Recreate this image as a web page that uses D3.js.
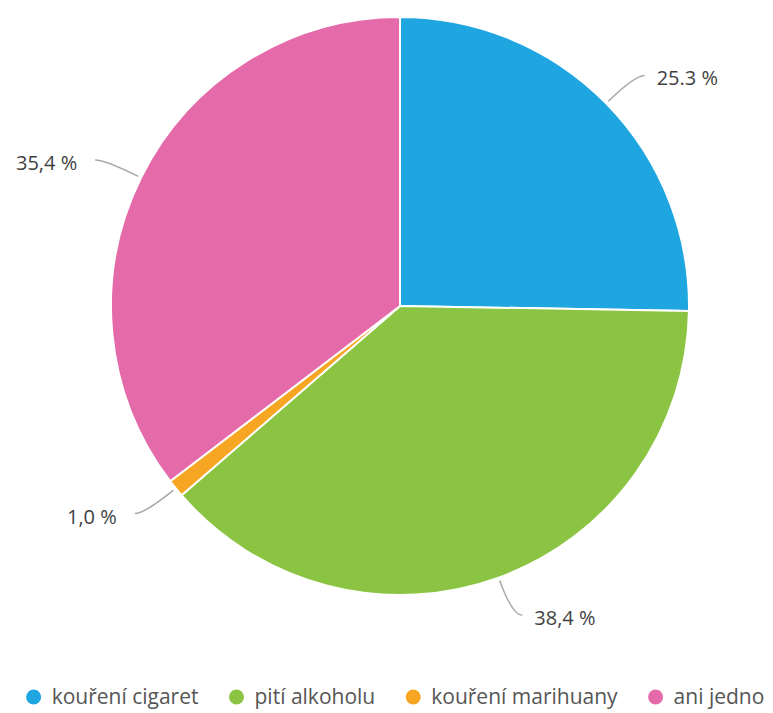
<!DOCTYPE html>
<html>
<head>
<meta charset="utf-8">
<script src="https://cdn.jsdelivr.net/npm/d3@7"></script>
<style>
  html, body { margin: 0; padding: 0; background: #fff; }
  svg { display: block; }
</style>
</head>
<body>
<svg id="chart" width="773" height="713"></svg>
<script>
// Categories, values (%) and their printed labels
const categories = ["kouření cigaret", "pití alkoholu", "kouření marihuany", "ani jedno"];
const values = [25.3, 38.4, 1.0, 35.4];
const valueLabels = ["25.3 %", "38,4 %", "1,0 %", "35,4 %"];
const colors = ["#1FA6E0", "#8BC443", "#F6A623", "#E46AA9"];

const svg = d3.select("#chart");
const cx = 400, cy = 306, R = 289;
const font = "'Open Sans', 'DejaVu Sans', sans-serif";

const data = categories.map((c, i) => ({ name: c, value: values[i], label: valueLabels[i], color: colors[i] }));

const pie = d3.pie().value(d => d.value).sort(null);
const arcs = pie(data);
const arc = d3.arc().innerRadius(0).outerRadius(R);

const g = svg.append("g").attr("transform", `translate(${cx},${cy})`);

g.selectAll("path.slice")
  .data(arcs)
  .join("path")
  .attr("class", "slice")
  .attr("d", arc)
  .attr("fill", d => d.data.color)
  .attr("stroke", "#fff")
  .attr("stroke-width", 2)
  .attr("stroke-linejoin", "round");

// Leader lines and value labels
const pt = (a, r) => [Math.sin(a) * r, -Math.cos(a) * r];
arcs.forEach(d => {
  const a = (d.startAngle + d.endAngle) / 2;
  const right = Math.sin(a) >= 0;
  const p0 = pt(a, R + 3);
  const p1 = pt(a, R + 40);
  const p2 = [p1[0] + (right ? 10 : -10), p1[1]];
  const path = d3.path();
  path.moveTo(p0[0], p0[1]);
  path.quadraticCurveTo(p1[0], p1[1], p2[0], p2[1]);
  g.append("path")
    .attr("d", path.toString())
    .attr("fill", "none")
    .attr("stroke", "#A8A8A8")
    .attr("stroke-width", 1.5);
  g.append("text")
    .attr("x", p2[0] + (right ? 12 : -18))
    .attr("y", p2[1] + 3)
    .attr("dy", "0.35em")
    .attr("text-anchor", right ? "start" : "end")
    .attr("font-family", font)
    .attr("font-size", 20)
    .attr("fill", "#3f3f3f")
    .text(d.data.label);
});

// Legend along the bottom, centred
const legend = svg.append("g");
const items = legend.selectAll("g.item").data(data).join("g").attr("class", "item");
items.append("circle").attr("r", 7.5).attr("cx", 0).attr("cy", 0).attr("fill", d => d.color);
items.append("text")
  .attr("x", 18)
  .attr("dy", "0.35em")
  .attr("font-family", font)
  .attr("font-size", 21)
  .attr("fill", "#555")
  .text(d => d.name);
const gap = 38;
let x = 0;
const widths = [];
items.each(function() {
  const w = 18 + d3.select(this).select("text").node().getComputedTextLength();
  widths.push(w);
});
items.attr("transform", (d, i) => {
  const t = `translate(${x},0)`;
  x += widths[i] + gap;
  return t;
});
const total = x - gap;
legend.attr("transform", `translate(${392 - total / 2 + 7},${697})`);
</script>
</body>
</html>
